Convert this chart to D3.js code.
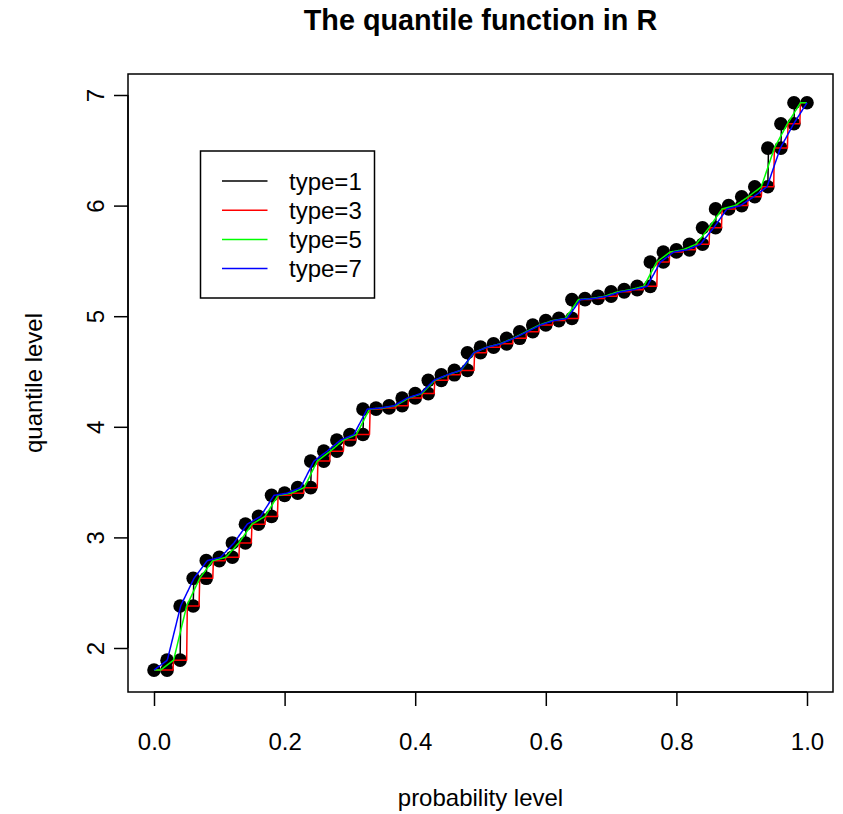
<!DOCTYPE html>
<html>
<head>
<meta charset="utf-8">
<script src="https://cdn.jsdelivr.net/npm/d3@7"></script>
<style>
  html, body { margin: 0; padding: 0; background: #fff; }
  svg { display: block; font-family: "Liberation Sans", Arial, Helvetica, sans-serif; }
</style>
</head>
<body>
<svg id="chart" width="843" height="814"></svg>
<script>
// Sorted sample (n = 50)
const sampleValues = [1.80, 1.89, 2.38, 2.63, 2.79, 2.82, 2.95, 3.12, 3.19, 3.38,
  3.40, 3.45, 3.69, 3.78, 3.88, 3.93, 4.16, 4.17, 4.19, 4.26,
  4.30, 4.42, 4.47, 4.51, 4.67, 4.72, 4.75, 4.80, 4.86, 4.92,
  4.96, 4.98, 5.15, 5.16, 5.18, 5.22, 5.24, 5.27, 5.49, 5.58,
  5.60, 5.65, 5.80, 5.97, 6.00, 6.08, 6.17, 6.52, 6.74, 6.93];
const quantileTypes = [1, 3, 5, 7];
const seriesColors = ["#000000", "#ff0000", "#00ff00", "#0000ff"];
const legendLabels = ["type=1", "type=3", "type=5", "type=7"];
const xTicks = [0, 0.2, 0.4, 0.6, 0.8, 1.0];
const yTicks = [2, 3, 4, 5, 6, 7];

// R's quantile() algorithm for types 1, 3, 5, 7
function rQuantile(x, p, type) {
  const n = x.length, fuzz = 4 * 2.220446e-16;
  const pad = [x[0], x[0], ...x, x[n - 1], x[n - 1]];
  let nppm, j, h;
  if (type <= 3) {
    nppm = type === 3 ? n * p - 0.5 : n * p;
    j = Math.floor(nppm + fuzz);
    if (type === 1) h = nppm > j + fuzz ? 1 : 0;
    else h = (Math.abs(nppm - j) > fuzz || (((j % 2) + 2) % 2) === 1) ? 1 : 0;
  } else {
    const a = type === 5 ? 0.5 : 1, b = a;
    nppm = a + p * (n + 1 - a - b);
    j = Math.floor(nppm + fuzz);
    h = nppm - j;
    if (Math.abs(h) < fuzz) h = 0;
  }
  const lo = pad[Math.min(Math.max(j + 1, 0), n + 3)];
  const hi = pad[Math.min(Math.max(j + 2, 0), n + 3)];
  if (h === 0) return lo;
  if (h === 1) return hi;
  return (1 - h) * lo + h * hi;
}

const svg = d3.select("#chart");
const box = { left: 128, right: 833, top: 74, bottom: 692 };
const x = d3.scaleLinear().domain([0, 1]).range([154, 807]);
const y = d3.scaleLinear().domain([2, 7]).range([648, 95]);

// Title
svg.append("text").attr("x", 480.5).attr("y", 30).attr("text-anchor", "middle")
  .attr("font-size", 28.8).attr("font-weight", "bold").text("The quantile function in R");

// axes
const xAxis = svg.append("g").attr("transform", `translate(0,${box.bottom})`)
  .call(d3.axisBottom(x).tickValues(xTicks).tickSize(14).tickSizeOuter(0).tickFormat(d3.format(".1f")));
xAxis.select(".domain").attr("d", `M${x(0)},0H${x(1)}`).attr("stroke-width", 1.5);
xAxis.selectAll(".tick line").attr("stroke-width", 1.5);
xAxis.selectAll(".tick text").attr("font-size", 24).attr("fill", "#000")
  .attr("y", 49).attr("dy", null).attr("dominant-baseline", "central").attr("font-family", null);

const yAxis = svg.append("g").attr("transform", `translate(${box.left},0)`)
  .call(d3.axisLeft(y).tickValues(yTicks).tickSize(14).tickSizeOuter(0).tickFormat(d3.format("d")));
yAxis.select(".domain").attr("d", `M0,${y(2)}V${y(7)}`).attr("stroke-width", 1.5);
yAxis.selectAll(".tick line").attr("stroke-width", 1.5);
yAxis.selectAll(".tick text").attr("font-size", 24).attr("fill", "#000")
  .attr("x", null).attr("dy", null).attr("text-anchor", "middle")
  .attr("dominant-baseline", "central").attr("font-family", null)
  .attr("transform", "translate(-33,0) rotate(-90)");
svg.selectAll(".domain, .tick line").attr("stroke", "#000");

// plot box
svg.append("rect").attr("x", box.left).attr("y", box.top)
  .attr("width", box.right - box.left).attr("height", box.bottom - box.top)
  .attr("fill", "none").attr("stroke", "#000").attr("stroke-width", 1.5);

// axis titles
svg.append("text").attr("x", 480.5).attr("y", 797).attr("text-anchor", "middle")
  .attr("dominant-baseline", "central").attr("font-size", 24).text("probability level");
svg.append("text").attr("transform", "translate(33,383) rotate(-90)").attr("text-anchor", "middle")
  .attr("dominant-baseline", "central").attr("font-size", 24).text("quantile level");

// points: both ends of each step of the type-1 quantile function
const n = sampleValues.length;
const pts = [];
sampleValues.forEach((v, i) => {
  pts.push({ p: i / n, v });
  pts.push({ p: (i + 1) / n, v });
});
svg.append("g").selectAll("circle").data(pts).join("circle")
  .attr("cx", d => x(d.p)).attr("cy", d => y(d.v)).attr("r", 6.8).attr("fill", "#000");

// quantile lines
const probs = d3.range(0, 1001).map(i => i / 1000);
const line = d3.line().x(d => x(d[0])).y(d => y(d[1]));
quantileTypes.forEach((t, i) => {
  const data = probs.map(p => [p, rQuantile(sampleValues, p, t)]);
  svg.append("path").datum(data).attr("d", line).attr("fill", "none")
    .attr("stroke", seriesColors[i]).attr("stroke-width", 1.5).attr("stroke-linejoin", "round");
});

// legend
const lg = svg.append("g");
lg.append("rect").attr("x", 200.5).attr("y", 151).attr("width", 174).attr("height", 147)
  .attr("fill", "#fff").attr("stroke", "#000").attr("stroke-width", 1.5);
legendLabels.forEach((lab, i) => {
  const yy = 181 + i * 29.2;
  lg.append("line").attr("x1", 222).attr("x2", 267.5).attr("y1", yy).attr("y2", yy)
    .attr("stroke", seriesColors[i]).attr("stroke-width", 1.5);
  lg.append("text").attr("x", 289).attr("y", yy).attr("dominant-baseline", "central")
    .attr("font-size", 24).text(lab);
});
</script>
</body>
</html>
